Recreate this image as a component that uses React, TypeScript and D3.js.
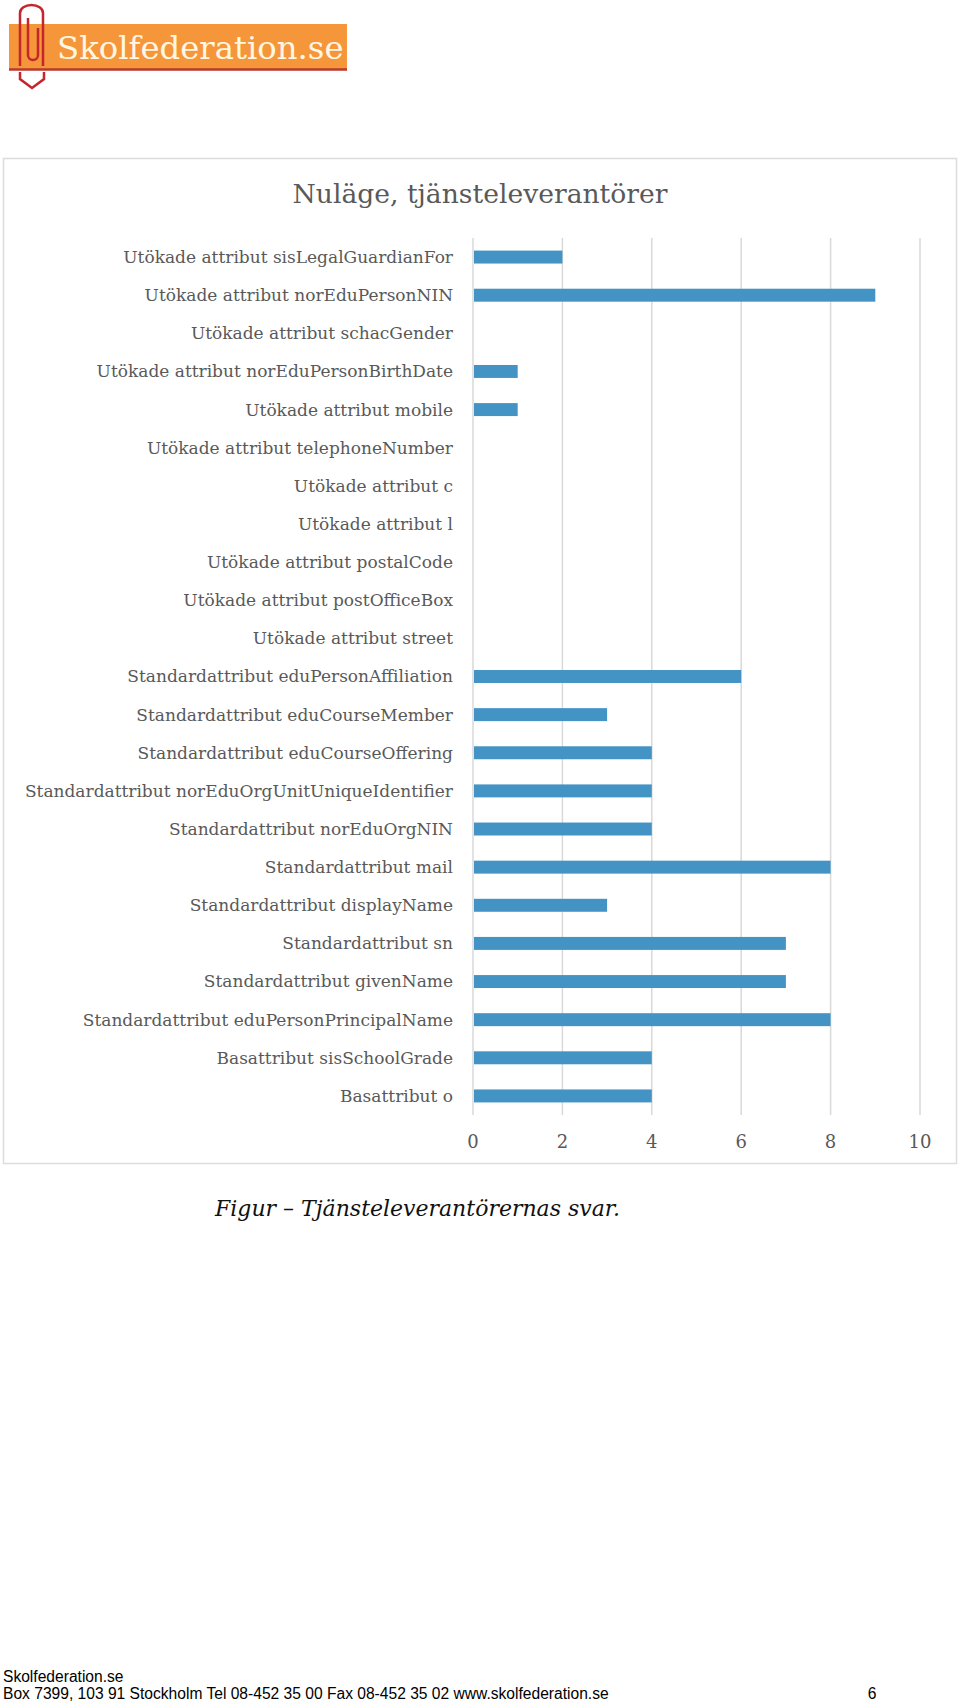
import React, { useRef, useEffect } from "react";
import * as d3 from "d3";

const categories = [
  "Utökade attribut sisLegalGuardianFor",
  "Utökade attribut norEduPersonNIN",
  "Utökade attribut schacGender",
  "Utökade attribut norEduPersonBirthDate",
  "Utökade attribut mobile",
  "Utökade attribut telephoneNumber",
  "Utökade attribut c",
  "Utökade attribut l",
  "Utökade attribut postalCode",
  "Utökade attribut postOfficeBox",
  "Utökade attribut street",
  "Standardattribut eduPersonAffiliation",
  "Standardattribut eduCourseMember",
  "Standardattribut eduCourseOffering",
  "Standardattribut norEduOrgUnitUniqueIdentifier",
  "Standardattribut norEduOrgNIN",
  "Standardattribut mail",
  "Standardattribut displayName",
  "Standardattribut sn",
  "Standardattribut givenName",
  "Standardattribut eduPersonPrincipalName",
  "Basattribut sisSchoolGrade",
  "Basattribut o",
];

const values = [2, 9, 0, 1, 1, 0, 0, 0, 0, 0, 0, 6, 3, 4, 4, 4, 8, 3, 7, 7, 8, 4, 4];

const xTicks = [0, 2, 4, 6, 8, 10];

const chartTitle = "Nuläge, tjänsteleverantörer";
const caption = "Figur – Tjänsteleverantörernas svar.";
const footerLines = [
  "Skolfederation.se",
  "Box 7399, 103 91 Stockholm Tel 08-452 35 00 Fax 08-452 35 02 www.skolfederation.se",
];
const pageNumber = "6";

const serif = "Georgia, 'DejaVu Serif', serif";
const sans = "Arial, 'Liberation Sans', sans-serif";
const textGrey = "#595959";

export default function App() {
  const svgRef = useRef<SVGSVGElement>(null);

  useEffect(() => {
    if (!svgRef.current) return;
    const svg = d3.select(svgRef.current);
    svg.selectAll("*").remove();

    // logo
    const logo = svg.append("g");
    logo.append("rect").attr("x", 9).attr("y", 24).attr("width", 338).attr("height", 45).attr("fill", "#f5963a");
    logo.append("line").attr("x1", 9).attr("x2", 347).attr("y1", 69.5).attr("y2", 69.5)
      .attr("stroke", "#b8392f").attr("stroke-width", 2.5);
    logo.append("text").attr("x", 57).attr("y", 59)
      .attr("font-family", serif).attr("font-size", 32.3).attr("fill", "#fff6e4")
      .text("Skolfederation.se");
    const clip = "#c4262e";
    logo.append("path")
      .attr("d", "M20 66 L20 13 A11.5 8 0 0 1 43 13 L43 66")
      .attr("fill", "none").attr("stroke", clip).attr("stroke-width", 2.5);
    logo.append("path")
      .attr("d", "M28 18 L28 55 A5 5 0 0 0 38 55 L38 28")
      .attr("fill", "none").attr("stroke", clip).attr("stroke-width", 2.5);
    logo.append("path")
      .attr("d", "M20 72 L20 79 L32 88 L44 79 L44 72")
      .attr("fill", "none").attr("stroke", clip).attr("stroke-width", 2.5);

    // chart frame
    svg.append("rect").attr("x", 3.5).attr("y", 158.5).attr("width", 953).attr("height", 1005)
      .attr("fill", "#fff").attr("stroke", "#dcdcdc").attr("stroke-width", 1.5);

    svg.append("text").attr("x", 480).attr("y", 203).attr("text-anchor", "middle")
      .attr("font-family", serif).attr("font-size", 26.6).attr("fill", textGrey)
      .text(chartTitle);

    const x = d3.scaleLinear().domain([0, 10]).range([473, 920]);
    const y = d3.scaleBand<string>().domain(categories).range([238, 1115])
      .paddingInner(0.66).paddingOuter(0.33);
    const [top, bottom] = y.range();

    // gridlines
    svg.append("g").selectAll("line").data(xTicks).join("line")
      .attr("x1", (d) => x(d)).attr("x2", (d) => x(d))
      .attr("y1", top).attr("y2", bottom)
      .attr("stroke", "#d9d9d9").attr("stroke-width", 1.5);

    // bars
    svg.append("g").selectAll("rect").data(values).join("rect")
      .attr("x", x(0) + 1)
      .attr("y", (_, i) => y(categories[i])!)
      .attr("width", (d) => Math.max(0, x(d) - x(0) - 1))
      .attr("height", y.bandwidth())
      .attr("fill", "#4394c5");

    // category labels
    svg.append("g").selectAll("text").data(categories).join("text")
      .attr("x", 453)
      .attr("y", (d) => y(d)! + y.bandwidth() / 2)
      .attr("dy", "0.35em")
      .attr("text-anchor", "end")
      .attr("font-family", serif).attr("font-size", 17).attr("fill", textGrey)
      .text((d) => d);

    // x tick labels
    svg.append("g").selectAll("text").data(xTicks).join("text")
      .attr("x", (d) => x(d))
      .attr("y", 1142)
      .attr("dy", "0.35em")
      .attr("text-anchor", "middle")
      .attr("font-family", serif).attr("font-size", 18).attr("fill", textGrey)
      .text((d) => d3.format("d")(d));

    // caption
    svg.append("text").attr("x", 215).attr("y", 1216)
      .attr("font-family", serif).attr("font-style", "italic").attr("font-size", 22).attr("fill", "#111")
      .text(caption);

    // footer
    svg.append("g").selectAll("text").data(footerLines).join("text")
      .attr("x", 3).attr("y", (_, i) => 1682 + i * 16.5)
      .attr("font-family", sans).attr("font-size", 15.6).attr("fill", "#000")
      .text((d) => d);
    svg.append("text").attr("x", 872).attr("y", 1698.5).attr("text-anchor", "middle")
      .attr("font-family", sans).attr("font-size", 15.6).attr("fill", "#000")
      .text(pageNumber);
  }, []);

  return (
    <svg
      ref={svgRef}
      width={960}
      height={1705}
      style={{ position: "absolute", left: 0, top: 0, display: "block", background: "#fff" }}
    />
  );
}
